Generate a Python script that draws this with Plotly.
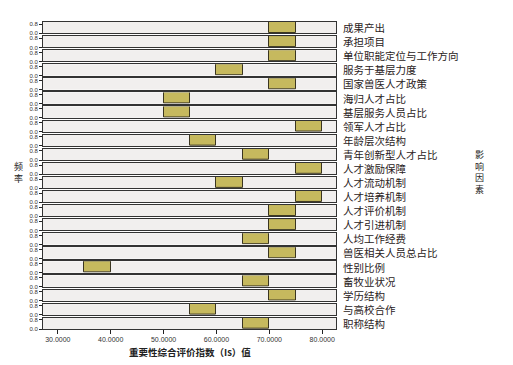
import plotly.graph_objects as go
from plotly.subplots import make_subplots

factors = ["成果产出", "承担项目", "单位职能定位与工作方向", "服务于基层力度", "国家兽医人才政策",
           "海归人才占比", "基层服务人员占比", "领军人才占比", "年龄层次结构", "青年创新型人才占比",
           "人才激励保障", "人才流动机制", "人才培养机制", "人才评价机制", "人才引进机制",
           "人均工作经费", "兽医相关人员总占比", "性别比例", "畜牧业状况", "学历结构",
           "与高校合作", "职称结构"]
bin_low = [70, 70, 70, 60, 70, 50, 50, 75, 55, 65, 75, 60, 75, 70, 70, 65, 70, 35, 65, 70, 55, 65]
bin_high = [75, 75, 75, 65, 75, 55, 55, 80, 60, 70, 80, 65, 80, 75, 75, 70, 75, 40, 70, 75, 60, 70]
freq = [1.0] * len(factors)
x_ticks = [30, 40, 50, 60, 70, 80]
x_tick_labels = ["30.0000", "40.0000", "50.0000", "60.0000", "70.0000", "80.0000"]
y_ticks = [0.0, 0.8]
y_tick_labels = ["0.0", "0.8"]

n = len(factors)
fig = make_subplots(rows=n, cols=1, shared_xaxes=True, vertical_spacing=0.009)

for i in range(n):
    mid = (bin_low[i] + bin_high[i]) / 2
    w = bin_high[i] - bin_low[i]
    fig.add_trace(go.Bar(x=[mid], y=[freq[i]], width=[w],
                         marker=dict(color="#c6b95e", line=dict(color="#3a3520", width=1)),
                         showlegend=False, hoverinfo="skip"), row=i + 1, col=1)
    fig.update_yaxes(range=[0, 1.0], tickvals=y_ticks, ticktext=y_tick_labels,
                     ticks="outside", ticklen=3, tickwidth=1, tickcolor="#222",
                     showline=True, linecolor="#333", linewidth=1, mirror=True,
                     showgrid=False, zeroline=False,
                     tickfont=dict(size=6, family="Liberation Sans", color="#333"),
                     row=i + 1, col=1)
    fig.update_xaxes(range=[27.2, 82.6], tickvals=x_ticks, ticktext=x_tick_labels,
                     showline=True, linecolor="#333", linewidth=1, mirror=True,
                     showgrid=False, zeroline=False,
                     ticks="outside" if i == n - 1 else "", ticklen=4, tickcolor="#222",
                     showticklabels=(i == n - 1),
                     tickfont=dict(size=7, family="Liberation Sans", color="#333"),
                     row=i + 1, col=1)
    yref = "y domain" if i == 0 else f"y{i + 1} domain"
    fig.add_annotation(text=factors[i], xref="paper", yref=yref, x=1.0, y=0.5,
                       xanchor="left", yanchor="middle", xshift=5, showarrow=False,
                       font=dict(size=10.5, family="Noto Sans CJK SC", color="#2a2222"))

fig.add_annotation(text="频<br>率", xref="paper", yref="paper", x=0, y=0.51,
                   xshift=-25, xanchor="center", yanchor="middle", showarrow=False,
                   font=dict(size=9, family="Noto Sans CJK SC", color="#222"))
fig.add_annotation(text="影<br>响<br>因<br>素", xref="paper", yref="paper", x=1.0, y=0.51,
                   xshift=143, xanchor="center", yanchor="middle", showarrow=False,
                   font=dict(size=9, family="Noto Sans CJK SC", color="#222"))
fig.add_annotation(text="<b>重要性综合评价指数（Is）值</b>", xref="paper", yref="paper", x=0.5, y=0,
                   yshift=-23, xanchor="center", yanchor="middle", showarrow=False,
                   font=dict(size=9.5, family="Noto Sans CJK SC", color="#222"))

fig.update_layout(width=505, height=357, margin=dict(l=35, r=177, t=14, b=36),
                  paper_bgcolor="white", plot_bgcolor="#f1efee", bargap=0)

fig.write_html("out.html")
